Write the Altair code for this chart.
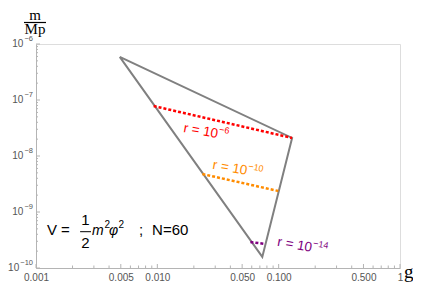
import altair as alt
import pandas as pd

# ---- data ----
tri_g = [0.0049, 0.129, 0.0733, 0.0049]
tri_m = [5.9e-7, 2.1e-8, 1.58e-10, 5.9e-7]

red_g = [0.00933, 0.129]
red_m = [7.8e-8, 2.1e-8]
orange_g = [0.0235, 0.0993]
orange_m = [4.77e-9, 2.37e-9]
purple_g = [0.0585, 0.0776]
purple_m = [2.91e-10, 2.68e-10]

label_base = ["r = 10", "r = 10", "r = 10"]
label_exp = ["−6", "−10", "−14"]
label_g = [0.0316, 0.0550, 0.188]
label_m = [2.47e-8, 5.4e-9, 2.28e-10]
label_col = ["#ff0000", "#ff8c00", "#800080"]

x_labels = [0.001, 0.005, 0.01, 0.05, 0.1, 0.5, 1]
y_labels = [1e-10, 1e-9, 1e-8, 1e-7, 1e-6]
y_label_exp = ["−10", "−9", "−8", "−7", "−6"]
x_minor = [m * d for d in [0.001, 0.01, 0.1] for m in [2, 3, 4, 6, 7, 8, 9]]
y_minor = [m * d for d in [1e-10, 1e-9, 1e-8, 1e-7] for m in [2, 3, 4, 5, 6, 7, 8, 9]]
x_major = [0.001, 0.005, 0.01, 0.05, 0.1, 0.5, 1]
y_major = [1e-10, 1e-9, 1e-8, 1e-7, 1e-6]

# equation  V = 1/2 m^2 phi^2 ; N=60  (pieces, their anchor g and m)
eq_text = ["V =", "1", "2", "m", "2", "φ", "2", ";", "N=60"]
eq_g = [0.00123, 0.00256, 0.00256, 0.002895, 0.003669, 0.004, 0.004788, 0.00707, 0.00905]
eq_m = [3.88e-10, 5.86e-10, 2.28e-10, 3.88e-10, 5.18e-10, 3.88e-10, 5.18e-10, 3.88e-10, 3.88e-10]
eq_style = ["normal", "normal", "normal", "italic", "normal", "italic", "normal", "normal", "normal"]
eq_size = [15, 15, 15, 14, 10, 14, 10, 15, 15]
eq_align = ["left", "center", "center", "left", "left", "left", "left", "left", "left"]
frac_g = [0.00231]
frac_g2 = [0.00284]
frac_m = [4.45e-10]

W, H = 364, 224
FONT = "Liberation Sans"
SERIF = "Liberation Serif"
AX = "#b4b4b4"
LAB = "#555555"

xs = alt.Scale(type="log", domain=[0.001, 1], nice=False)
ys = alt.Scale(type="log", domain=[1e-10, 1e-6], nice=False)
x_expr = "datum.value == 1 ? '1' : format(datum.value, '.3f')"

xaxis = alt.Axis(values=x_labels, labelExpr=x_expr, ticks=False, grid=False,
                 domainColor=AX, labelColor=LAB, labelFont=FONT, labelFontSize=10,
                 labelPadding=4, labelFlush=False, title="g", titleFont=SERIF,
                 titleFontSize=19, titleFontWeight="normal", titleColor="black",
                 titleX=W + 13, titleY=3, titleAlign="right", titleBaseline="middle")
yaxis = alt.Axis(values=y_labels, labels=False, ticks=False, grid=False,
                 domainColor=AX, title=None)


def X(f="g"):
    return alt.X(f"{f}:Q", scale=xs, axis=xaxis)


def Y(f="m"):
    return alt.Y(f"{f}:Q", scale=ys, axis=yaxis)


tri = pd.DataFrame({"g": tri_g, "m": tri_m, "o": range(len(tri_g))})
triangle = alt.Chart(tri).mark_line(color="#808080", strokeWidth=2).encode(
    x=X(), y=Y(), order="o:O")


def dashed(gv, mv, col):
    df = pd.DataFrame({"g": gv, "m": mv})
    return alt.Chart(df).mark_line(color=col, strokeWidth=2.5, strokeDash=[3, 2]).encode(
        x=X(), y=Y())


lines = [dashed(red_g, red_m, label_col[0]),
         dashed(orange_g, orange_m, label_col[1]),
         dashed(purple_g, purple_m, label_col[2])]

labs = []
for b, e, gv, mv, c in zip(label_base, label_exp, label_g, label_m, label_col):
    df = pd.DataFrame({"g": [gv], "m": [mv], "b": [b], "e": [e]})
    base = alt.Chart(df).encode(x=X(), y=Y())
    labs.append(base.mark_text(color=c, font=FONT, fontSize=13.5, angle=10,
                               align="right", baseline="middle").encode(text="b:N"))
    labs.append(base.mark_text(color=c, font=FONT, fontSize=9, angle=10,
                               align="left", baseline="middle", dx=0.5, dy=-5).encode(text="e:N"))


def ticks_y(vals, ln):
    df = pd.DataFrame({"m": vals})
    return alt.Chart(df).mark_rule(color=AX, strokeWidth=1).encode(
        y=Y(), x=alt.value(0), x2=alt.value(ln))


def ticks_x(vals, ln):
    df = pd.DataFrame({"g": vals})
    return alt.Chart(df).mark_rule(color=AX, strokeWidth=1).encode(
        x=X(), y=alt.value(H), y2=alt.value(H - ln))


tick_layers = [ticks_y(y_major, 4), ticks_y(y_minor, 2),
               ticks_x(x_major, 4), ticks_x(x_minor, 2.5)]

# y tick labels 10^n drawn as base + superscript
ylabs = []
for v, e in zip(y_labels, y_label_exp):
    df = pd.DataFrame({"m": [v], "b": ["10"], "e": [e]})
    ew = 4.4 + 4.2 * (len(e) - 1)
    base = alt.Chart(df).encode(y=Y())
    ylabs.append(base.mark_text(color=LAB, font=FONT, fontSize=10, align="right",
                                baseline="middle").encode(x=alt.value(-3 - ew - 1), text="b:N"))
    ylabs.append(base.mark_text(color=LAB, font=FONT, fontSize=7.5, align="right",
                                baseline="middle", dy=-5).encode(x=alt.value(-3), text="e:N"))

eqs = []
for t, gv, mv, st, sz, al in zip(eq_text, eq_g, eq_m, eq_style, eq_size, eq_align):
    df = pd.DataFrame({"g": [gv], "m": [mv], "t": [t]})
    eqs.append(alt.Chart(df).mark_text(color="black", font=FONT, fontSize=sz, fontStyle=st,
                                       align=al, baseline="alphabetic").encode(
        x=X(), y=Y(), text="t:N"))
frac = alt.Chart(pd.DataFrame({"g": frac_g, "g2": frac_g2, "m": frac_m})).mark_rule(
    color="black", strokeWidth=1).encode(x=X(), x2="g2:Q", y=Y())

# y-axis title m / Mp
ytitle = alt.Chart(pd.DataFrame({"t": ["m"]})).mark_text(
    font=SERIF, fontSize=15, color="black", baseline="alphabetic").encode(
    x=alt.value(-1), y=alt.value(-24), text="t:N")
ytitle2 = alt.Chart(pd.DataFrame({"t": ["Mp"]})).mark_text(
    font=SERIF, fontSize=15, color="black", baseline="alphabetic").encode(
    x=alt.value(-1), y=alt.value(-10), text="t:N")
yline = alt.Chart(pd.DataFrame({"t": ["bar"]})).mark_rule(color="black", strokeWidth=1.2).encode(
    x=alt.value(-12), x2=alt.value(10), y=alt.value(-21.5))

chart = alt.layer(triangle, *lines, *labs, *tick_layers, *ylabs, *eqs, frac,
                  ytitle, ytitle2, yline).properties(
    width=W, height=H, autosize="none",
    padding={"left": 28, "top": 36, "right": 13, "bottom": 14},
).configure_view(stroke=None).configure(background="white")

chart.save("out.html", embed_options={"renderer": "svg", "actions": False})
